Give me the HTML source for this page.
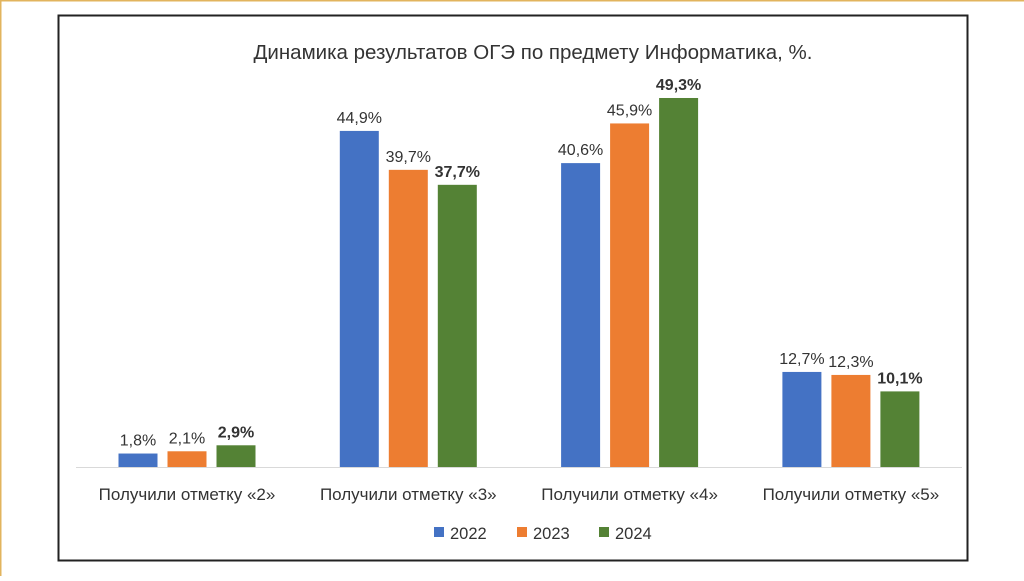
<!DOCTYPE html>
<html><head><meta charset="utf-8"><style>
body{margin:0;width:1024px;height:576px;background:#fff;overflow:hidden;font-family:"Liberation Sans",sans-serif}
</style></head><body>
<svg width="1024" height="576">
<rect x="0.5" y="0.5" width="1030" height="580" fill="none" stroke="#e2b45e" stroke-width="2"/>
<rect x="58.5" y="15.5" width="909" height="545" fill="#fff" stroke="#222" stroke-width="2"/>
<text x="533" y="59" font-size="20.5" text-anchor="middle" fill="#333">Динамика результатов ОГЭ по предмету Информатика, %.</text>
<line x1="76" y1="467.5" x2="962" y2="467.5" stroke="#d9d9d9"/>
<g id="bars"></g>
<g font-size="16.5" fill="#333">
<rect x="434" y="527" width="10" height="10" fill="#4472c4"/>
<text x="450" y="539">2022</text>
<rect x="517" y="527" width="10" height="10" fill="#ed7d31"/>
<text x="533" y="539">2023</text>
<rect x="599" y="527" width="10" height="10" fill="#548235"/>
<text x="615" y="539">2024</text>
</g>
</svg>
<script>
const categories=["Получили отметку «2»","Получили отметку «3»","Получили отметку «4»","Получили отметку «5»"];
const s2022=[1.8,44.9,40.6,12.7];
const s2023=[2.1,39.7,45.9,12.3];
const s2024=[2.9,37.7,49.3,10.1];
const seriesNames=["2022","2023","2024"];
const colors=["#4472c4","#ed7d31","#548235"];
const base=467,scale=7.485;
function y(v){return base-v*scale;}
function cx(i){return 187+i*221.3;}
const g=document.getElementById('bars');
const NS="http://www.w3.org/2000/svg";
const series=[s2022,s2023,s2024];
categories.forEach((c,i)=>{
  series.forEach((s,k)=>{
    const x=cx(i)-68.5+k*49;
    const r=document.createElementNS(NS,'rect');
    r.setAttribute('x',x);r.setAttribute('y',y(s[i]));
    r.setAttribute('width',39);r.setAttribute('height',base-y(s[i]));
    r.setAttribute('fill',colors[k]);
    
    
    g.appendChild(r);
    const t=document.createElementNS(NS,'text');
    t.setAttribute('x',x+19.5);t.setAttribute('y',y(s[i])-8);
    t.setAttribute('text-anchor','middle');t.setAttribute('font-size','16');
    t.setAttribute('fill','#333');
    if(k==2)t.setAttribute('font-weight','bold');
    t.textContent=s[i].toFixed(1).replace('.',',')+'%';
    
    
    g.appendChild(t);
  });
  const l=document.createElementNS(NS,'text');
  l.setAttribute('x',cx(i));l.setAttribute('y',500);
  l.setAttribute('text-anchor','middle');l.setAttribute('font-size','17');l.setAttribute('fill','#333');
  l.textContent=c;
  
  
  g.appendChild(l);
});
</script>
</body></html>
